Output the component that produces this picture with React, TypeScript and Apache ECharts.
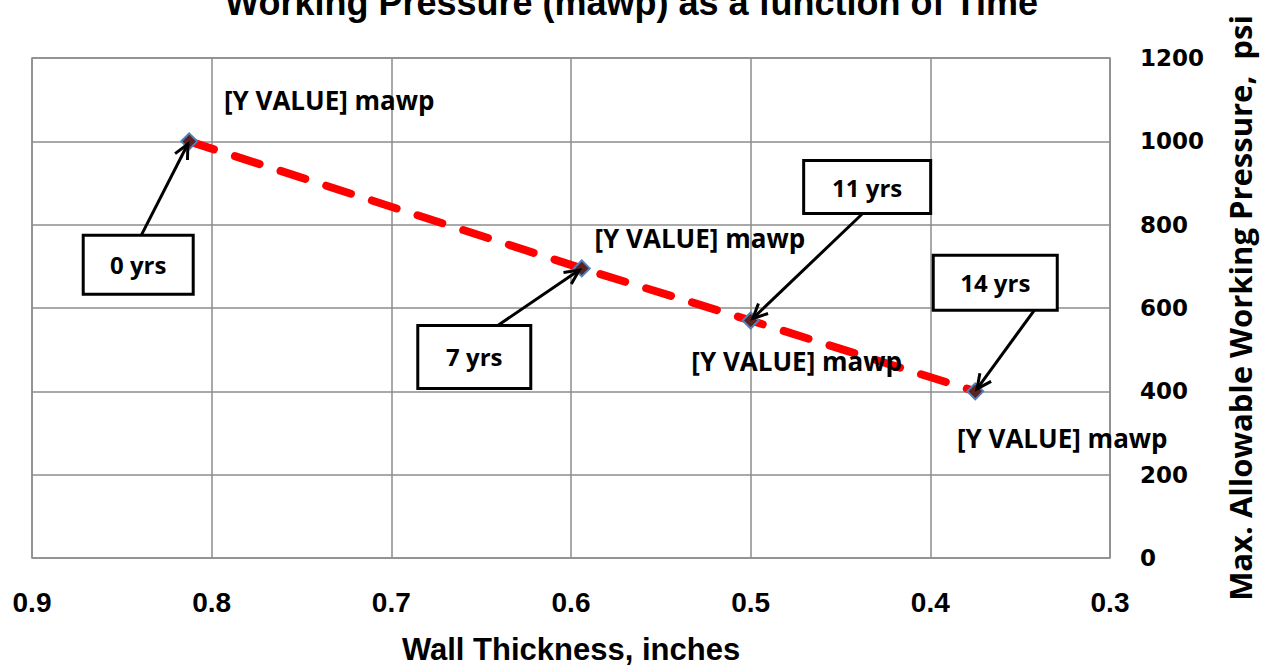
import React, { useEffect, useRef } from "react";
import * as echarts from "echarts";

const wallThickness = [0.8125, 0.594, 0.5, 0.375];
const mawpValues = [1000, 695, 570, 400];
const yearLabels = ["0 yrs", "7 yrs", "11 yrs", "14 yrs"];
const pointLabel = "[Y VALUE] mawp";
const titleText = "Working Pressure (mawp) as a function of Time";
const xAxisTitle = "Wall Thickness, inches";
const yAxisTitle = "Max. Allowable Working Pressure,  psi";

// layout of labels / callouts relative to each point (pixels)
const labelOffsets = [
  [140, -41],
  [118, -30],
  [46, 40],
  [87, 47],
];
const calloutBoxes = [
  { left: -106, top: 94, w: 110, h: 59, ax: -48, ay: 94 },
  { left: -164, top: 57, w: 113, h: 63, ax: -84, ay: 57 },
  { left: 53, top: -160, w: 127, h: 53, ax: 112, ay: -107 },
  { left: -42, top: -136, w: 124, h: 55, ax: 59, ay: -81 },
];

const SANS = '"Liberation Sans", Arial, sans-serif';
const HUMAN = '"Open Sans", Lato, sans-serif';

export default function App() {
  const ref = useRef<HTMLDivElement>(null);
  useEffect(() => {
    if (!ref.current) return;
    const chart = echarts.init(ref.current, null, { renderer: "svg" });
    const data = wallThickness.map((x, i) => ({
      value: [x, mawpValues[i]],
      label: { offset: labelOffsets[i] },
    }));
    chart.setOption({
      animation: false,
      backgroundColor: "#ffffff",
      grid: {
        left: 32,
        right: 153,
        top: 58,
        bottom: 110,
        containLabel: false,
        outerBoundsMode: "none",
        show: true,
        borderColor: "#8c8c8c",
        borderWidth: 1.5,
      },
      xAxis: {
        type: "value",
        min: 0.3,
        max: 0.9,
        interval: 0.1,
        inverse: true,
        axisLine: { show: false },
        axisTick: { show: false },
        splitLine: { show: true, lineStyle: { color: "#8c8c8c", width: 1.5 } },
        axisLabel: {
          margin: 30,
          fontFamily: SANS,
          fontWeight: "bold",
          fontSize: 28,
          color: "#000",
          formatter: (v: number) => v.toFixed(1),
        },
        name: xAxisTitle,
        nameLocation: "middle",
        nameGap: 76,
        nameTextStyle: { fontFamily: SANS, fontWeight: "bold", fontSize: 31, color: "#000" },
      },
      yAxis: {
        type: "value",
        position: "right",
        min: 0,
        max: 1200,
        interval: 200,
        axisLine: { show: false },
        axisTick: { show: false },
        splitLine: { show: true, lineStyle: { color: "#8c8c8c", width: 1.5 } },
        axisLabel: {
          margin: 30,
          fontFamily: '"DejaVu Sans", sans-serif',
          fontWeight: "bold",
          fontSize: 23,
          color: "#000",
          formatter: (v: number) => String(v),
        },
        name: yAxisTitle,
        nameLocation: "middle",
        nameRotate: 90,
        nameGap: 114,
        nameTextStyle: { fontFamily: HUMAN, fontWeight: "bold", fontSize: 31, color: "#000" },
      },
      series: [
        {
          type: "line",
          data,
          symbol: "diamond",
          symbolSize: 16,
          itemStyle: { color: "#5c2222", borderColor: "#4f81bd", borderWidth: 2 },
          lineStyle: { color: "#ff0000", width: 8, type: [26, 22], cap: "round" },
          label: {
            show: true,
            position: "inside",
            formatter: pointLabel,
            fontFamily: HUMAN,
            fontWeight: "bold",
            fontSize: 26,
            color: "#000",
          },
          z: 3,
        },
      ],
    });

    const elements: any[] = [
      {
        type: "text",
        left: "center",
        top: -16,
        style: {
          text: titleText,
          fontFamily: SANS,
          fontWeight: "bold",
          fontSize: 36,
          fill: "#000",
        },
      },
    ];
    wallThickness.forEach((x, i) => {
      const p = chart.convertToPixel({ gridIndex: 0 }, [x, mawpValues[i]]) as number[];
      const b = calloutBoxes[i];
      const bx = p[0] + b.left;
      const by = p[1] + b.top;
      elements.push({
        type: "rect",
        shape: { x: bx, y: by, width: b.w, height: b.h },
        style: { fill: "#fff", stroke: "#000", lineWidth: 3 },
        z: 10,
      });
      elements.push({
        type: "text",
        x: bx + b.w / 2,
        y: by + b.h / 2,
        style: {
          text: yearLabels[i],
          align: "center",
          verticalAlign: "middle",
          fontFamily: HUMAN,
          fontWeight: "bold",
          fontSize: 24,
          fill: "#000",
        },
        z: 11,
      });
      const sx = p[0] + b.ax;
      const sy = p[1] + b.ay;
      const dx = p[0] - sx;
      const dy = p[1] - sy;
      const len = Math.sqrt(dx * dx + dy * dy);
      const ux = dx / len;
      const uy = dy / len;
      const tx = p[0] - ux * 3;
      const ty = p[1] - uy * 3;
      const ah = 16;
      const ang = 0.45;
      const c = Math.cos(ang);
      const s = Math.sin(ang);
      const l1 = [tx - ah * (ux * c - uy * s), ty - ah * (uy * c + ux * s)];
      const l2 = [tx - ah * (ux * c + uy * s), ty - ah * (uy * c - ux * s)];
      elements.push({
        type: "line",
        shape: { x1: sx, y1: sy, x2: tx, y2: ty },
        style: { stroke: "#000", lineWidth: 3 },
        z: 10,
      });
      elements.push({
        type: "polyline",
        shape: { points: [l1, [tx, ty], l2] },
        style: { stroke: "#000", lineWidth: 3, fill: null },
        z: 10,
      });
    });
    chart.setOption({ graphic: elements });
    return () => chart.dispose();
  }, []);
  return (
    <div
      ref={ref}
      style={{ position: "fixed", left: 0, top: 0, width: 1263, height: 668 }}
    />
  );
}
